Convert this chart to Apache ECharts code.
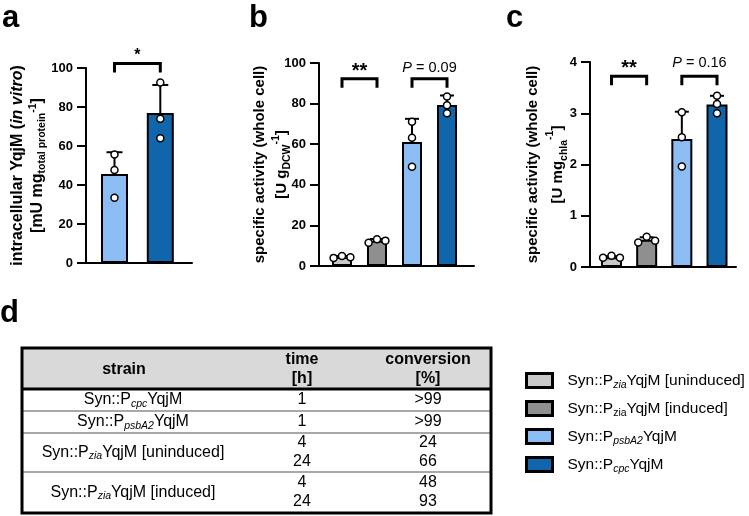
<!DOCTYPE html>
<html><head><meta charset="utf-8">
<script src="https://cdn.jsdelivr.net/npm/echarts@6/dist/echarts.min.js"></script>
<style>html,body{margin:0;padding:0;background:#fff}#c{width:749px;height:516px}</style>
</head><body><div id="c"></div>
<script>
// ---------- data ----------
const strainNames = ['Syn::PziaYqjM [uninduced]', 'Syn::PziaYqjM [induced]', 'Syn::PpsbA2YqjM', 'Syn::PcpcYqjM'];
const strainPromoters = ['zia', 'zia', 'psbA2', 'cpc'];
const strainSuffix = [' [uninduced]', ' [induced]', '', ''];
const strainColors = ['#c9c9c9', '#8f8f8f', '#8cbcf4', '#1165ab'];

// panel a: intracellular YqjM (in vitro)
const groupsA = [2, 3];
const meanA = [45.6, 76.9];
const sdA = [11.2, 14.4];
const pointsA = [[55.7, 47.7, 33.5], [92.6, 74.0, 64.0]];
const ticksA = [0, 20, 40, 60, 80, 100];
const sigA = [[0, 1, 102.3, '*']];

// panel b: specific activity per g DCW
const groupsB = [0, 1, 2, 3];
const meanB = [4.4, 12.4, 61.1, 79.3];
const sdB = [0.5, 0.9, 11.4, 4.7];
const pointsB = [[4.0, 4.9, 4.3], [11.5, 13.2, 12.5], [71.1, 63.2, 48.9], [83.5, 79.2, 75.3]];
const ticksB = [0, 20, 40, 60, 80, 100];
const sigB = [[0, 1, 92.2, '**'], [2, 3, 92.2, 'P = 0.09']];

// panel c: specific activity per mg chla
const groupsC = [0, 1, 2, 3];
const meanC = [0.19, 0.53, 2.50, 3.17];
const sdC = [0.02, 0.05, 0.53, 0.17];
const pointsC = [[0.18, 0.22, 0.18], [0.48, 0.59, 0.51], [3.02, 2.53, 1.96], [3.34, 3.18, 3.00]];
const ticksC = [0, 1, 2, 3, 4];
const sigC = [[0, 1, 3.72, '**'], [2, 3, 3.72, 'P = 0.16']];

// panel d: table
const tableHeader = [['strain'], ['time', '[h]'], ['conversion', '[%]']];
const tableStrainIdx = [3, 2, 0, 1];
const tableTimes = [['1'], ['1'], ['4', '24'], ['4', '24']];
const tableConv = [['>99'], ['>99'], ['24', '66'], ['48', '93']];

// ---------- styling / layout ----------
const FF = "'Liberation Sans', Arial, Helvetica, sans-serif";
const panels = [
  {groups: groupsA, mean: meanA, sd: sdA, pts: pointsA, ticks: ticksA, sig: sigA,
   grid: {left: 86, top: 68, width: 106, height: 195}, xMin: -0.622, xMax: 1.692, barW: 27, capW: 16,
   nameGap: 38, lh: 20, nameSize: 16,
   name: '{b|intracellular YqjM (}{bi|in vitro}{b|)}\n{b|[mU mg}{sub|total protein}{sup|-1}{b|]}',
   starOff: 8, pOff: 12, starSize: 16},
  {groups: groupsB, mean: meanB, sd: sdB, pts: pointsB, ticks: ticksB, sig: sigB,
   grid: {left: 319, top: 63, width: 155, height: 203}, xMin: -0.657, xMax: 3.771, barW: 20, capW: 14,
   nameGap: 26, lh: 22, nameSize: 15,
   name: '{b|specific activity (whole cell)}\n{b|[U g}{sub|DCW}{sup|-1}{b|]}',
   starOff: 7.5, pOff: 11, starSize: 20},
  {groups: groupsC, mean: meanC, sd: sdC, pts: pointsC, ticks: ticksC, sig: sigC,
   grid: {left: 590, top: 62, width: 146, height: 205}, xMin: -0.611, xMax: 3.54, barW: 21, capW: 14,
   nameGap: 20, lh: 25, nameSize: 15,
   name: '{b|specific activity (whole cell)}\n{b|[U mg}{sub|chla}{sup|-1}{b|]}',
   starOff: 7.5, pOff: 13, starSize: 20}
];

function nameRich(lh, fs) {
  return {
    b: {fontSize: fs, fontWeight: 'bold', fontFamily: FF, color: '#000', lineHeight: lh},
    bi: {fontSize: fs, fontWeight: 'bold', fontStyle: 'italic', fontFamily: FF, color: '#000', lineHeight: lh},
    sub: {fontSize: 10.5, fontWeight: 'bold', fontFamily: FF, color: '#000', lineHeight: lh - 8, verticalAlign: 'bottom'},
    sup: {fontSize: 10.5, fontWeight: 'bold', fontFamily: FF, color: '#000', lineHeight: lh - 10, verticalAlign: 'top'}
  };
}

const grids = [], xAxes = [], yAxes = [], series = [];
panels.forEach((p, k) => {
  grids.push(Object.assign({containLabel: false}, p.grid));
  xAxes.push({type: 'value', gridIndex: k, min: p.xMin, max: p.xMax,
    axisLine: {onZero: false, lineStyle: {color: '#000', width: 2}},
    axisTick: {show: false}, axisLabel: {show: false}, splitLine: {show: false}});
  yAxes.push({type: 'value', gridIndex: k, min: p.ticks[0], max: p.ticks[p.ticks.length - 1],
    interval: p.ticks[1] - p.ticks[0],
    name: p.name, nameLocation: 'middle', nameRotate: 90, nameGap: p.nameGap, nameMoveOverlap: false,
    nameTextStyle: {rich: nameRich(p.lh, p.nameSize), align: 'center'},
    axisLine: {show: true, onZero: false, lineStyle: {color: '#000', width: 2}},
    axisTick: {show: true, length: 9, lineStyle: {color: '#000', width: 2}},
    axisLabel: {color: '#000', fontWeight: 'bold', fontSize: 13, fontFamily: FF, margin: 13},
    splitLine: {show: false}});
  const yRange = p.ticks[p.ticks.length - 1] - p.ticks[0];
  // bars
  p.groups.forEach((g, i) => {
    series.push({type: 'bar', name: strainNames[g], xAxisIndex: k, yAxisIndex: k,
      data: [[i, p.mean[i]]], barWidth: p.barW, barGap: '-100%', z: 2,
      itemStyle: {color: strainColors[g], borderColor: '#000', borderWidth: 2}});
  });
  // error bars (mean + SD)
  series.push({type: 'custom', xAxisIndex: k, yAxisIndex: k, z: 3, silent: true,
    data: p.mean.map((m, i) => [i, m, p.sd[i]]), encode: {x: 0, y: 1},
    renderItem: (params, api) => {
      const x = api.value(0), m = api.value(1), s = api.value(2);
      const p0 = api.coord([x, m]), p1 = api.coord([x, m + s]);
      return {type: 'group', children: [
        {type: 'line', shape: {x1: p0[0], y1: p0[1], x2: p1[0], y2: p1[1]}, style: {stroke: '#000', lineWidth: 2}},
        {type: 'line', shape: {x1: p1[0] - p.capW / 2, y1: p1[1], x2: p1[0] + p.capW / 2, y2: p1[1]}, style: {stroke: '#000', lineWidth: 2}}
      ]};
    }});
  // individual points (spread sideways when they overlap)
  const ptData = [];
  p.pts.forEach((vals, i) => {
    const spanPx = (Math.max(...vals) - Math.min(...vals)) / yRange * p.grid.height;
    vals.forEach((v, j) => {
      const dx = spanPx < 10 ? (j - (vals.length - 1) / 2) * 0.24 : 0;
      ptData.push([i + dx, v]);
    });
  });
  series.push({type: 'scatter', xAxisIndex: k, yAxisIndex: k, z: 4, silent: true,
    data: ptData, symbol: 'circle', symbolSize: 7,
    itemStyle: {color: '#fff', borderColor: '#000', borderWidth: 1.5, opacity: 1}});
  // significance brackets
  series.push({type: 'custom', xAxisIndex: k, yAxisIndex: k, z: 5, silent: true, clip: false,
    data: p.sig.map(s => [s[0], s[1], s[2]]), encode: {x: [0, 1], y: 2},
    renderItem: (params, api) => {
      const a = api.coord([api.value(0), api.value(2)]);
      const b = api.coord([api.value(1), api.value(2)]);
      const lab = p.sig[params.dataIndex][3];
      const star = lab.indexOf('*') >= 0;
      const cx = (a[0] + b[0]) / 2;
      const leg = 9;
      return {type: 'group', children: [
        {type: 'polyline', shape: {points: [[a[0], a[1] + leg], [a[0], a[1]], [b[0], b[1]], [b[0], b[1] + leg]]},
         style: {stroke: '#000', lineWidth: 3, fill: null, lineJoin: 'miter', lineCap: 'butt'}},
        {type: 'text', style: {
          text: star ? lab : '{i|' + lab.slice(0, 1) + '}{n|' + lab.slice(1) + '}',
          x: cx, y: a[1] - (star ? p.starOff : p.pOff), align: 'center', verticalAlign: 'middle',
          fontSize: star ? p.starSize : 14, fontWeight: star ? 'bold' : 'normal', fontFamily: FF, fill: '#000',
          rich: {i: {fontSize: 14.5, fontStyle: 'italic', fontFamily: FF, fill: '#000'},
                 n: {fontSize: 14.5, fontFamily: FF, fill: '#000'}}}}
      ]};
    }});
});

// ---------- table (panel d) ----------
const T = {x: 22, y: 348, w: 469, headH: 41, rowTops: [389, 411, 433, 472], rowH: [22, 22, 39, 41], lineGap: 19,
  colX: [133, 302, 428], headX: [124, 302, 428]};
const tableH = T.rowTops[3] + T.rowH[3] - T.y;
const richRow = {
  t: {fontSize: 16, fontFamily: FF, fill: '#000', lineHeight: 19},
  s: {fontSize: 10.5, fontFamily: FF, fill: '#000', lineHeight: 12, verticalAlign: 'bottom'},
  si: {fontSize: 10.5, fontStyle: 'italic', fontFamily: FF, fill: '#000', lineHeight: 12, verticalAlign: 'bottom'}
};
function strainRich(g) {
  return '{t|Syn::P}{si|' + strainPromoters[g] + '}{t|YqjM' + strainSuffix[g] + '}';
}
function txt(text, x, y, extra) {
  return {type: 'text', silent: true, z: 10, style: Object.assign({
    text: text, x: x, y: y, align: 'center', verticalAlign: 'middle', textAlign: 'center', textVerticalAlign: 'middle',
    fontSize: 16, fontFamily: FF, fill: '#000'}, extra || {})};
}
const gfx = [];
gfx.push({type: 'rect', silent: true, z: 5, shape: {x: T.x, y: T.y, width: T.w, height: T.headH}, style: {fill: '#d9d9d9'}});
[T.rowTops[1], T.rowTops[2], T.rowTops[3]].forEach(y => {
  gfx.push({type: 'line', silent: true, z: 6, shape: {x1: T.x, y1: y, x2: T.x + T.w, y2: y}, style: {stroke: '#a8a8a8', lineWidth: 2}});
});
gfx.push({type: 'line', silent: true, z: 7, shape: {x1: T.x, y1: T.rowTops[0], x2: T.x + T.w, y2: T.rowTops[0]}, style: {stroke: '#000', lineWidth: 3}});
gfx.push({type: 'rect', silent: true, z: 8, shape: {x: T.x, y: T.y, width: T.w, height: tableH}, style: {fill: null, stroke: '#000', lineWidth: 3}});
tableHeader.forEach((lines, c) => {
  const cy = T.y + T.headH / 2 + 1;
  lines.forEach((l, j) => {
    const y = cy + (j - (lines.length - 1) / 2) * T.lineGap;
    gfx.push(txt(l, T.headX[c], y, {fontWeight: 'bold', fontSize: 16}));
  });
});
tableStrainIdx.forEach((g, r) => {
  const cy = T.rowTops[r] + T.rowH[r] / 2;
  gfx.push(txt(strainRich(g), T.colX[0], cy, {rich: richRow}));
  [tableTimes[r], tableConv[r]].forEach((vals, c) => {
    vals.forEach((v, j) => {
      const y = cy + (j - (vals.length - 1) / 2) * T.lineGap;
      gfx.push(txt(v, T.colX[c + 1], y));
    });
  });
});
// panel letters
[['a', 2, 18], ['b', 249, 18], ['c', 506, 18], ['d', 0, 313]].forEach(l => {
  gfx.push({type: 'text', silent: true, z: 10, style: {text: l[0], x: l[1], y: l[2], align: 'left', textAlign: 'left',
    verticalAlign: 'middle', textVerticalAlign: 'middle', fontSize: 31, fontWeight: 'bold', fontFamily: FF, fill: '#000'}});
});

// ---------- legend ----------
const legendRich = {
  t: {fontSize: 15.5, fontFamily: FF, color: '#000', lineHeight: 20},
  s: {fontSize: 10.5, fontFamily: FF, color: '#000', lineHeight: 12, verticalAlign: 'bottom'},
  si: {fontSize: 10.5, fontStyle: 'italic', fontFamily: FF, color: '#000', lineHeight: 12, verticalAlign: 'bottom'}
};

const option = {
  animation: false,
  backgroundColor: '#fff',
  grid: grids, xAxis: xAxes, yAxis: yAxes, series: series,
  legend: {
    orient: 'vertical', left: 525, top: 372, padding: 0, itemWidth: 26, itemHeight: 14, itemGap: 9.5,
    icon: 'rect', selectedMode: false, data: strainNames,
    itemStyle: {borderColor: '#000', borderWidth: 3},
    textStyle: {padding: [0, 0, 0, 10], rich: legendRich},
    formatter: name => {
      const g = strainNames.indexOf(name);
      const st = g === 1 ? 's' : 'si';
      return '{t|Syn::P}{' + st + '|' + strainPromoters[g] + '}{t|YqjM' + strainSuffix[g] + '}';
    }
  },
  graphic: {elements: gfx}
};
const chart = echarts.init(document.getElementById('c'), null, {renderer: 'canvas'});
chart.setOption(option);
</script></body></html>
